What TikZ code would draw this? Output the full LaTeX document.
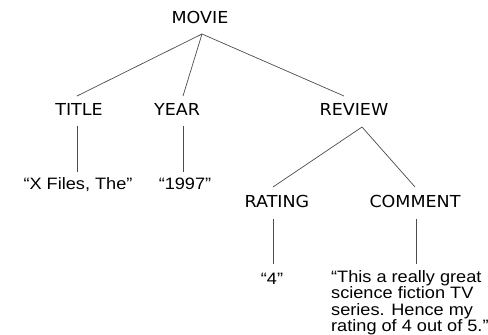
\documentclass[tikz,border=0pt]{standalone}
\usepackage{fontspec}
\newfontfamily\labfont{DejaVu Sans}[FakeStretch=1.06]
\newfontfamily\leaffont{Liberation Sans}[FakeStretch=1.1]
\begin{document}
\begin{tikzpicture}[x=1pt,y=-1pt,
  lab/.style={font=\labfont\fontsize{16.5}{20}\selectfont, inner sep=0pt},
  leaf/.style={font=\leaffont\fontsize{16.5}{16.3}\selectfont, inner sep=0pt},
  edge/.style={draw=black!70, line width=0.7pt}]
\useasboundingbox[fill=white] (0,0) rectangle (488,335);
% labels
\node[lab] (movie) at (200,17) {MOVIE};
\node[lab] (title) at (79,109) {TITLE};
\node[lab] (year) at (177,109) {YEAR};
\node[lab] (review) at (354,109) {REVIEW};
\node[lab] (rating) at (277,201) {RATING};
\node[lab] (comment) at (415,201) {COMMENT};
% leaves
\node[leaf, anchor=base] (vtitle) at (78,189) {“X Files, The”};
\node[leaf, anchor=base] (vyear) at (185,189) {“1997”};
\node[leaf, anchor=base] (vrating) at (272,284) {“4”};
\node[leaf, anchor=north west, align=left] (vcomment) at (331,270.5)
  {“This a really great\\science fiction TV\\series. Hence my\\rating of 4 out of 5.”};
% connection points
\coordinate (m0) at (202,34);
\coordinate (t0) at (77,96);
\coordinate (y0) at (183,96);
\coordinate (r0) at (344,96);
\coordinate (t1) at (77,126);
\coordinate (t2) at (77,172);
\coordinate (y1) at (183,126);
\coordinate (y2) at (183,172);
\coordinate (rv) at (362,127);
\coordinate (ra0) at (273,187);
\coordinate (co0) at (415,187);
\coordinate (ra1) at (273,219);
\coordinate (ra2) at (273,264);
\coordinate (co1) at (416,219);
\coordinate (co2) at (416,264);
\draw[edge] (m0) -- (t0);
\draw[edge] (m0) -- (y0);
\draw[edge] (m0) -- (r0);
\draw[edge] (t1) -- (t2);
\draw[edge] (y1) -- (y2);
\draw[edge] (rv) -- (ra0);
\draw[edge] (rv) -- (co0);
\draw[edge] (ra1) -- (ra2);
\draw[edge] (co1) -- (co2);
\end{tikzpicture}
\end{document}
